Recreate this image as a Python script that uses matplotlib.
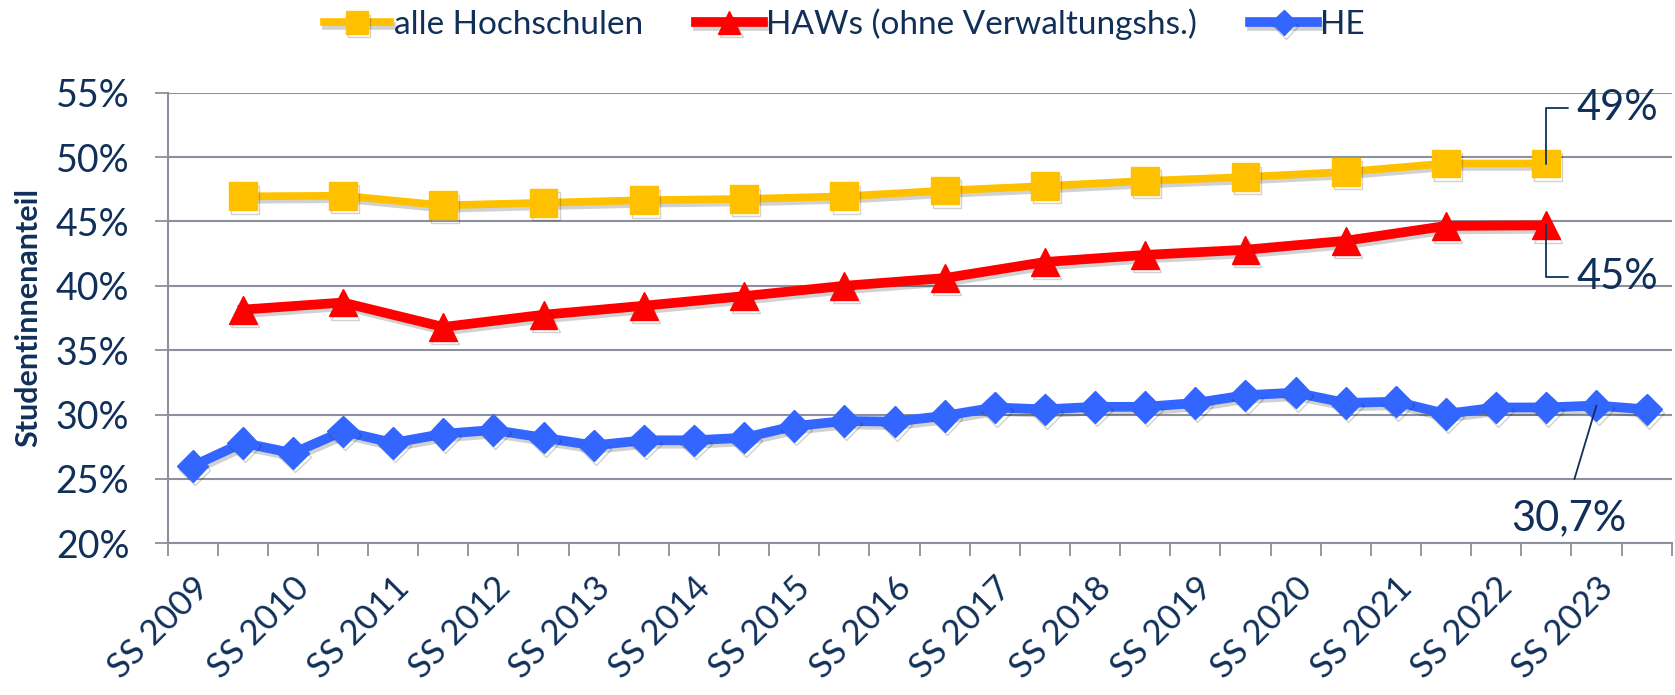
import numpy as np
import matplotlib.pyplot as plt
import matplotlib.patheffects as pe

# semesters (SS + WS), only SS labels are shown on the axis
years = list(range(2009, 2024))
semesters = []
for y in years:
    semesters.append("SS %d" % y)
    semesters.append("WS %d/%02d" % (y, (y + 1) % 100))

# HE: every semester
he = [26.0, 27.8, 27.0, 28.7, 27.8, 28.5, 28.8, 28.2, 27.6, 28.0,
      28.0, 28.2, 29.1, 29.5, 29.45, 29.9, 30.55, 30.4, 30.6, 30.6,
      30.9, 31.5, 31.7, 30.9, 31.0, 30.05, 30.55, 30.55, 30.7, 30.4]

# alle Hochschulen / HAWs: winter semesters only (WS 2009/10 .. WS 2022/23)
alle = [46.95, 47.0, 46.25, 46.45, 46.65, 46.75, 46.95,
        47.4, 47.75, 48.15, 48.45, 48.85, 49.5, 49.5]
haw = [38.15, 38.7, 36.8, 37.75, 38.45, 39.2, 40.0,
       40.6, 41.85, 42.4, 42.8, 43.5, 44.65, 44.7]

navy = "#10305a"
grid_c = "#8c909c"
yellow = "#ffc000"
red = "#ff0000"
blue = "#3366ff"

plt.rcParams['font.family'] = ['Lato', 'DejaVu Sans']

x_all = np.arange(len(semesters))
ws_idx = [i for i, s in enumerate(semesters) if s.startswith("WS")][:len(alle)]

fig = plt.figure(figsize=(16.75, 6.95), dpi=100)
ax = fig.add_axes([0.1, 0.2183, 0.898, 0.6483])

shadow = [pe.SimpleLineShadow(offset=(1.5, -2.5), shadow_color='k', alpha=0.18), pe.Normal()]

l1, = ax.plot(ws_idx, alle, color=yellow, lw=5.5, marker='s', ms=20,
              label="alle Hochschulen", path_effects=shadow, zorder=3)
l2, = ax.plot(ws_idx, haw, color=red, lw=7, marker='^', ms=20,
              label="HAWs (ohne Verwaltungshs.)", path_effects=shadow, zorder=3)
l3, = ax.plot(x_all, he, color=blue, lw=7, marker='D', ms=16,
              label="HE", path_effects=shadow, zorder=3)

ax.set_xlim(-0.5, len(semesters) - 0.5)
ax.set_ylim(20, 55)
ax.set_yticks(np.arange(20, 56, 5))
ax.set_yticklabels(["%d%%" % v for v in range(20, 56, 5)], fontsize=27, color=navy)
ax.yaxis.grid(True, color=grid_c, lw=1.5)
ax.set_axisbelow(True)

ax.set_xticks(x_all[::2])
ax.set_xticklabels(semesters[::2], rotation=45, ha='right', va='top',
                   rotation_mode='anchor', fontsize=25, color=navy)
ax.set_xticks(np.arange(-0.5, len(semesters), 1), minor=True)
ax.tick_params(axis='x', which='major', length=0, pad=20)
ax.tick_params(axis='x', which='minor', length=9.5, width=1.3, color=grid_c)
ax.tick_params(axis='y', length=9.5, width=1.3, color=grid_c, pad=18)

for s in ['top', 'right']:
    ax.spines[s].set_visible(False)
for s in ['left', 'bottom']:
    ax.spines[s].set_color(grid_c)
    ax.spines[s].set_linewidth(1.5)

ax.set_ylabel("Studentinnenanteil", fontsize=22, fontweight='bold', color=navy)
ax.yaxis.set_label_coords(-0.083, 0.5)

# data labels with leader lines
lead = dict(arrowstyle='-', color=navy, lw=1.3, shrinkA=4, shrinkB=0)
ax.annotate("49%", xy=(ws_idx[-1], alle[-1]), xytext=(ws_idx[-1] + 0.6, 53.8),
            fontsize=30, color=navy, ha='left', va='center',
            arrowprops=dict(lead, connectionstyle='angle,angleA=0,angleB=90,rad=0'))
ax.annotate("45%", xy=(ws_idx[-1], haw[-1]), xytext=(ws_idx[-1] + 0.6, 40.7),
            fontsize=30, color=navy, ha='left', va='center',
            arrowprops=dict(lead, connectionstyle='angle,angleA=0,angleB=90,rad=0'))
ax.annotate("30,7%", xy=(28, he[28]), xytext=(27.44, 21.95),
            fontsize=30, color=navy, ha='center', va='center',
            arrowprops=dict(lead, relpos=(0.5, 1.0), shrinkA=13))

fig.legend(handles=[l1, l2, l3], loc='center', bbox_to_anchor=(0.504, 0.965),
           ncol=3, frameon=False, fontsize=24, labelcolor=navy,
           handlelength=2.0, handletextpad=0.1, columnspacing=1.6, markerscale=0.8)

fig.savefig("out.png", dpi=100)
